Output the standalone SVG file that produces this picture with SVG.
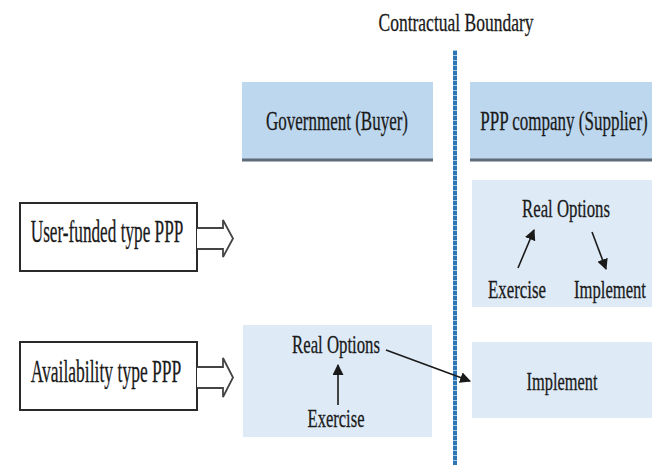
<svg xmlns="http://www.w3.org/2000/svg" width="652" height="465" viewBox="0 0 652 465">
<defs>
<marker id="ah" viewBox="0 0 10 10" refX="9" refY="5" markerWidth="11" markerHeight="11" markerUnits="userSpaceOnUse" orient="auto">
<path d="M0,0 L10,5 L0,10 z" fill="#1a1a1a"/>
</marker>
<style>
.hdr{fill:#BDD7EE}
.hdrline{stroke:#5f6b78;stroke-width:3}
.lt{fill:#DEEBF7}
.src{fill:#fff;stroke:#2a2a2a;stroke-width:2}
.blk{fill:#fff;stroke:#444;stroke-width:1.8;stroke-linejoin:miter}
.con{stroke:#1a1a1a;stroke-width:1.6;fill:none;marker-end:url(#ah)}
</style>
</defs>
<rect width="652" height="465" fill="#fff"/>
<g font-family="Liberation Serif, Times New Roman, serif" fill="#1a1a1a" stroke="#1a1a1a" stroke-width="0.3" text-anchor="middle">

<g id="boundary">
<text transform="translate(456,31) scale(0.673,1)" font-size="26">Contractual Boundary</text>
<line x1="455" y1="50" x2="455" y2="465" stroke="#2E75B6" stroke-width="4"/>
<line x1="455" y1="50" x2="455" y2="465" stroke="#fff" stroke-width="4" stroke-dasharray="1 4" opacity="0.6"/>
</g>

<g id="gov-header">
<rect class="hdr" x="242" y="82" width="191" height="78" stroke="none"/>
<line class="hdrline" x1="242" y1="160" x2="433" y2="160"/>
<text transform="translate(337,130) scale(0.607,1)" font-size="28">Government (Buyer)</text>
</g>

<g id="ppp-header">
<rect class="hdr" x="470" y="82" width="182" height="78" stroke="none"/>
<line class="hdrline" x1="470" y1="160" x2="652" y2="160"/>
<text transform="translate(564,130) scale(0.607,1)" font-size="28">PPP company (Supplier)</text>
</g>

<g id="user-funded">
<rect class="src" x="20" y="203" width="177" height="68"/>
<text transform="translate(107,242) scale(0.555,1)" font-size="31">User-funded type PPP</text>
<path class="blk" d="M197,228 L223,228 L223,220 L233,238.5 L223,257 L223,249 L197,249"/>
</g>

<g id="availability">
<rect class="src" x="20" y="342" width="177" height="68"/>
<text transform="translate(106,382) scale(0.566,1)" font-size="31">Availability type PPP</text>
<path class="blk" d="M197,367 L223,367 L223,358 L233,377.5 L223,397 L223,388 L197,388"/>
</g>

<g id="supplier-options">
<rect class="lt" x="472" y="180" width="180" height="127" stroke="none"/>
<text transform="translate(566,217) scale(0.645,1)" font-size="26">Real Options</text>
<text transform="translate(517,298) scale(0.648,1)" font-size="26">Exercise</text>
<text transform="translate(610,298) scale(0.639,1)" font-size="26">Implement</text>
</g>

<g id="supplier-implement">
<rect class="lt" x="472" y="342" width="180" height="76" stroke="none"/>
<text transform="translate(562,390) scale(0.63,1)" font-size="26">Implement</text>
</g>

<g id="gov-options">
<rect class="lt" x="243" y="325" width="189" height="112" stroke="none"/>
<text transform="translate(336,353) scale(0.645,1)" font-size="26">Real Options</text>
<text transform="translate(336,427) scale(0.637,1)" font-size="26">Exercise</text>
</g>

</g>
<g id="connectors">
<line class="con" x1="338" y1="405" x2="338" y2="365"/>
<line class="con" x1="386" y1="350" x2="470" y2="381"/>
<line class="con" x1="518" y1="268" x2="534" y2="230"/>
<line class="con" x1="592" y1="232" x2="606" y2="269"/>
</g>
</svg>
